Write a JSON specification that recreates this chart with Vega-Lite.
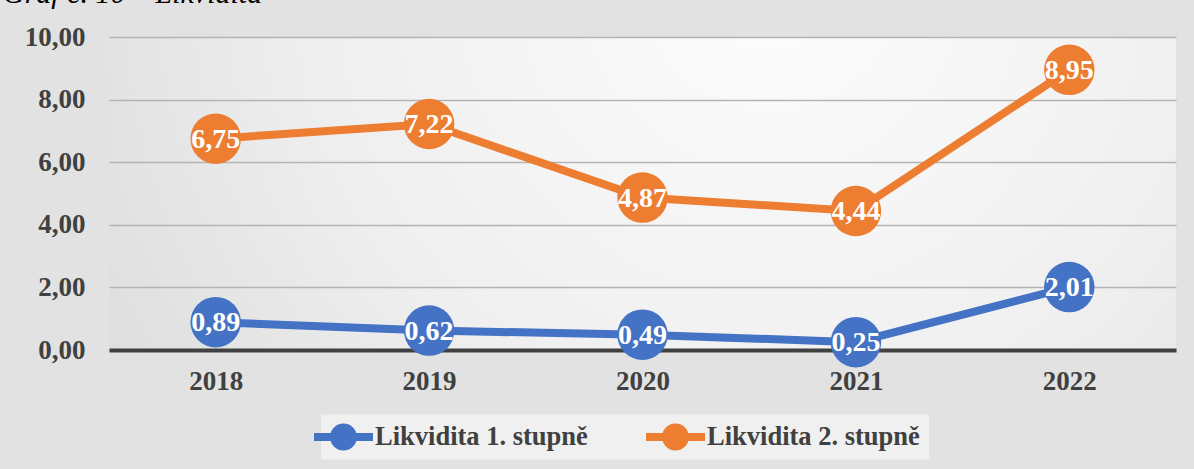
{
  "$schema": "https://vega.github.io/schema/vega-lite/v6.json",
  "width": 1067,
  "height": 313,
  "autosize": {"type": "none"},
  "padding": {"left": 109, "top": 37, "right": 18, "bottom": 119},
  "background": "#e2e2e2",
  "config": {
    "locale": {"number": {"decimal": ",", "thousands": " ", "grouping": [3], "currency": ["", " Kč"]}},
    "view": {
      "stroke": null,
      "fill": {
        "gradient": "radial",
        "x1": 0.62, "y1": 0.3, "r1": 0,
        "x2": 0.62, "y2": 0.3, "r2": 0.85,
        "stops": [
          {"offset": 0, "color": "#fdfdfd"},
          {"offset": 0.5, "color": "#efefef"},
          {"offset": 1, "color": "#d6d6d6"}
        ]
      }
    },
    "font": "Liberation Serif"
  },
  "title": {
    "text": "Graf č. 10 – Likvidita",
    "anchor": "start",
    "frame": "group",
    "font": "Liberation Serif",
    "fontStyle": "italic",
    "fontWeight": "normal",
    "fontSize": 30,
    "color": "#000000",
    "baseline": "alphabetic",
    "offset": -10,
    "dx": -106
  },
  "data": {
    "values": [
      {"year": "2018", "series": "Likvidita 1. stupně", "value": 0.89},
      {"year": "2019", "series": "Likvidita 1. stupně", "value": 0.62},
      {"year": "2020", "series": "Likvidita 1. stupně", "value": 0.49},
      {"year": "2021", "series": "Likvidita 1. stupně", "value": 0.25},
      {"year": "2022", "series": "Likvidita 1. stupně", "value": 2.01},
      {"year": "2018", "series": "Likvidita 2. stupně", "value": 6.75},
      {"year": "2019", "series": "Likvidita 2. stupně", "value": 7.22},
      {"year": "2020", "series": "Likvidita 2. stupně", "value": 4.87},
      {"year": "2021", "series": "Likvidita 2. stupně", "value": 4.44},
      {"year": "2022", "series": "Likvidita 2. stupně", "value": 8.95}
    ]
  },
  "encoding": {
    "x": {
      "field": "year",
      "type": "ordinal",
      "axis": {
        "title": null,
        "labelAngle": 0,
        "labelFont": "Liberation Serif",
        "labelFontSize": 27,
        "labelFontWeight": "bold",
        "labelColor": "#404040",
        "labelPadding": 18,
        "ticks": false,
        "tickSize": 0,
        "grid": false,
        "domainColor": "#404040",
        "domainWidth": 4
      }
    },
    "y": {
      "field": "value",
      "type": "quantitative",
      "scale": {"domain": [0, 10], "nice": false},
      "axis": {
        "title": null,
        "values": [0, 2, 4, 6, 8, 10],
        "format": ".2f",
        "labelFont": "Liberation Serif",
        "labelFontSize": 27,
        "labelFontWeight": "bold",
        "labelColor": "#404040",
        "labelPadding": 24,
        "ticks": false,
        "tickSize": 0,
        "domain": false,
        "gridColor": "#b4b4b4",
        "gridWidth": 1.5
      }
    },
    "color": {
      "field": "series",
      "type": "nominal",
      "scale": {"domain": ["Likvidita 1. stupně", "Likvidita 2. stupně"], "range": ["#4472C4", "#ED7D31"]},
      "legend": {
        "title": null,
        "orient": "none",
        "legendX": 212,
        "legendY": 377.5,
        "direction": "horizontal",
        "symbolType": "M-2.185,-0.296H2.185V0.296H-2.185Z M1,0A1,1,0,1,1,-1,0A1,1,0,1,1,1,0Z",
        "symbolSize": 729,
        "symbolStrokeWidth": 0,
        "symbolOpacity": 1,
        "labelFont": "Liberation Serif",
        "labelFontSize": 26.5,
        "labelFontWeight": "bold",
        "labelColor": "#404040",
        "labelOffset": 18,
        "labelLimit": 0,
        "columnPadding": 58,
        "padding": 9,
        "fillColor": "#f0f0f0",
        "encode": {
          "symbols": {"update": {"fill": {"scale": "color", "field": "value"}, "strokeWidth": {"value": 0}, "opacity": {"value": 1}}}
        }
      }
    }
  },
  "layer": [
    {
      "mark": {"type": "line", "strokeWidth": 8}
    },
    {
      "mark": {"type": "point", "filled": true, "size": 2550, "opacity": 1, "strokeWidth": 0}
    },
    {
      "mark": {"type": "text", "font": "Liberation Serif", "fontSize": 28, "fontWeight": "bold", "baseline": "middle", "align": "center", "dy": 1},
      "encoding": {
        "text": {"field": "value", "type": "quantitative", "format": ".2f"},
        "color": {"value": "#ffffff"}
      }
    }
  ]
}
